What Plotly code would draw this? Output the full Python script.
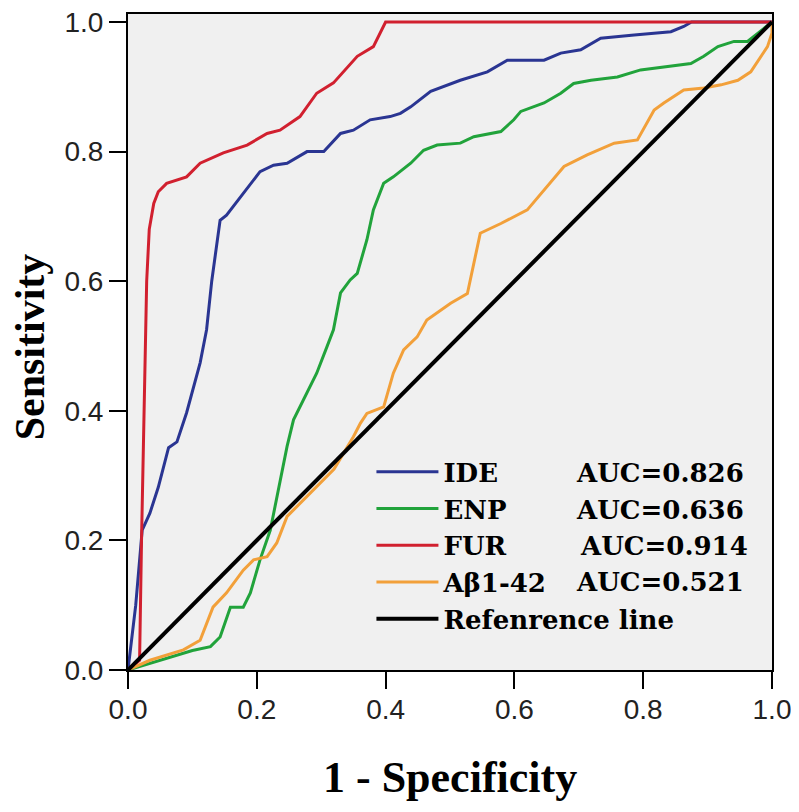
import plotly.graph_objects as go

# ---- data ----
series_names = ["IDE", "ENP", "FUR", "Aβ1-42"]
auc_values = ["0.826", "0.636", "0.914", "0.521"]

ide_x = [0, 0.012, 0.022, 0.034, 0.047, 0.063, 0.076, 0.091, 0.112, 0.122, 0.130, 0.138, 0.143,
         0.153, 0.179, 0.205, 0.226, 0.247, 0.278, 0.304, 0.330, 0.350, 0.376, 0.407, 0.423,
         0.439, 0.470, 0.516, 0.558, 0.589, 0.646, 0.672, 0.703, 0.734, 0.786, 0.843, 0.863,
         0.875, 1.0]
ide_y = [0, 0.10, 0.216, 0.242, 0.282, 0.343, 0.352, 0.397, 0.474, 0.525, 0.600, 0.660, 0.694,
         0.702, 0.736, 0.769, 0.779, 0.782, 0.800, 0.800, 0.828, 0.833, 0.849, 0.854, 0.859,
         0.869, 0.893, 0.910, 0.923, 0.941, 0.941, 0.952, 0.957, 0.975, 0.980, 0.985, 0.993,
         1.0, 1.0]

enp_x = [0, 0.05, 0.10, 0.128, 0.143, 0.159, 0.179, 0.190, 0.205, 0.221, 0.236, 0.247, 0.257,
         0.293, 0.309, 0.319, 0.330, 0.345, 0.356, 0.371, 0.381, 0.397, 0.412, 0.439, 0.459,
         0.480, 0.516, 0.537, 0.579, 0.599, 0.610, 0.646, 0.672, 0.692, 0.719, 0.760, 0.796,
         0.838, 0.874, 0.894, 0.916, 0.941, 0.962, 1.0]
enp_y = [0, 0.015, 0.030, 0.036, 0.051, 0.097, 0.097, 0.119, 0.170, 0.216, 0.293, 0.345, 0.386,
         0.458, 0.499, 0.525, 0.582, 0.602, 0.612, 0.664, 0.710, 0.751, 0.761, 0.782, 0.802,
         0.810, 0.813, 0.823, 0.831, 0.849, 0.862, 0.875, 0.890, 0.905, 0.910, 0.915, 0.926,
         0.931, 0.936, 0.947, 0.962, 0.970, 0.970, 1.0]

fur_x = [0, 0.018, 0.021, 0.025, 0.029, 0.033, 0.040, 0.047, 0.060, 0.091, 0.112, 0.148, 0.185,
         0.216, 0.236, 0.267, 0.293, 0.319, 0.356, 0.381, 0.400, 1.0]
fur_y = [0, 0.015, 0.200, 0.400, 0.600, 0.680, 0.720, 0.738, 0.751, 0.761, 0.782, 0.798, 0.810,
         0.828, 0.833, 0.854, 0.890, 0.906, 0.947, 0.962, 1.0, 1.0]

abeta_x = [0, 0.034, 0.086, 0.112, 0.132, 0.153, 0.179, 0.195, 0.216, 0.231, 0.247, 0.280, 0.320,
           0.350, 0.361, 0.371, 0.397, 0.412, 0.428, 0.449, 0.464, 0.501, 0.527, 0.547, 0.579,
           0.620, 0.646, 0.677, 0.713, 0.755, 0.791, 0.817, 0.832, 0.863, 0.894, 0.921, 0.947,
           0.967, 0.993, 1.0, 1.0]
abeta_y = [0, 0.015, 0.031, 0.046, 0.097, 0.119, 0.154, 0.170, 0.175, 0.196, 0.237, 0.270, 0.310,
           0.360, 0.381, 0.396, 0.406, 0.458, 0.494, 0.514, 0.540, 0.566, 0.581, 0.674, 0.689,
           0.710, 0.741, 0.777, 0.795, 0.813, 0.818, 0.864, 0.875, 0.895, 0.898, 0.903, 0.910,
           0.923, 0.962, 0.983, 1.0]

ref_x = [0, 1]
ref_y = [0, 1]

tick_vals = [0.0, 0.2, 0.4, 0.6, 0.8, 1.0]
tick_text = ["0.0", "0.2", "0.4", "0.6", "0.8", "1.0"]

# ---- styles ----
colors = ["#2a3592", "#21a33b", "#d1202f", "#f2a03a"]
xs = [ide_x, enp_x, fur_x, abeta_x]
ys = [ide_y, enp_y, fur_y, abeta_y]

fig = go.Figure()
for name, x, y, c in zip(series_names, xs, ys, colors):
    fig.add_trace(go.Scatter(x=x, y=y, mode="lines", name=name,
                             line=dict(color=c, width=3)))
fig.add_trace(go.Scatter(x=ref_x, y=ref_y, mode="lines", name="Refenrence line",
                         line=dict(color="black", width=4)))

# AUC labels next to legend entries
auc_y = [0.304, 0.247, 0.191, 0.136]
auc_x = [0.693, 0.693, 0.698, 0.693]
for ax_, ay_, v in zip(auc_x, auc_y, auc_values):
    fig.add_annotation(x=ax_, y=ay_, xref="x", yref="y", text="AUC=" + v,
                       showarrow=False, xanchor="left", yanchor="middle",
                       font=dict(family="DejaVu Serif", size=26, color="black", weight="bold"))

title_font = dict(family="Liberation Serif", size=44, color="black", weight="bold")
fig.add_annotation(x=0.5, y=-0.1646, xref="paper", yref="paper", text="1 - Specificity",
                   showarrow=False, xanchor="center", yanchor="middle", font=title_font)
fig.add_annotation(x=-0.152, y=0.492, xref="paper", yref="paper", text="Sensitivity",
                   textangle=-90, showarrow=False, xanchor="center", yanchor="middle",
                   font=dict(title_font, size=42))

axis_common = dict(
    showline=True, linecolor="black", linewidth=2, mirror=True,
    ticks="outside", ticklen=17, tickwidth=2, tickcolor="black",
    tickvals=tick_vals, ticktext=tick_text, ticklabeloverflow="allow",
    tickfont=dict(family="Liberation Sans", size=28, color="#222"),
    showgrid=False, zeroline=False, automargin=False,
)

fig.update_xaxes(range=[0, 1.0], ticklabelstandoff=-4, **axis_common)
fig.update_yaxes(range=[0, 1.0123], **axis_common)

# page body has an 8px margin, so the figure is sized to the visible area
fig.update_layout(
    width=791, height=804,
    margin=dict(l=120, r=27, t=6, b=142),
    plot_bgcolor="#f0f0f0", paper_bgcolor="white",
    legend=dict(x=0.378, y=0.338, xanchor="left", yanchor="top",
                bgcolor="rgba(0,0,0,0)", borderwidth=0,
                font=dict(family="DejaVu Serif", size=26, color="black", weight="bold"),
                itemwidth=62, tracegroupgap=0),
)

fig.write_html("out.html")
